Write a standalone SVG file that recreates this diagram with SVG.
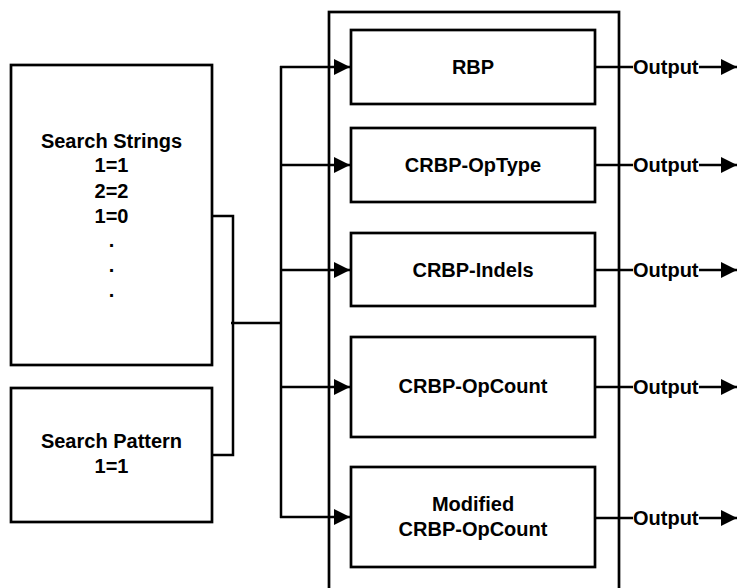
<svg xmlns="http://www.w3.org/2000/svg" width="738" height="588" viewBox="0 0 738 588">
<style>
.box{fill:none;stroke:#000;stroke-width:2.7}
.ln{fill:none;stroke:#000;stroke-width:2.5}
text{font-family:"Liberation Sans",Arial,sans-serif;font-weight:bold;font-size:20px;fill:#000}
.c{text-anchor:middle}
</style>
<defs>
<marker id="ah" markerUnits="userSpaceOnUse" markerWidth="16" markerHeight="16" refX="16" refY="8" orient="auto">
<path d="M0,0 L16,8 L0,16 z" fill="#000"/>
</marker>
</defs>
<rect width="738" height="588" fill="#fff"/>
<g id="strings">
<rect class="box" x="11" y="65" width="201" height="300"/>
<text class="c" x="111.5" y="148">Search Strings</text>
<text class="c" x="111.5" y="172">1=1</text>
<text class="c" x="111.5" y="198">2=2</text>
<text class="c" x="111.5" y="223">1=0</text>
<text class="c" x="111.5" y="247">.</text>
<text class="c" x="111.5" y="272">.</text>
<text class="c" x="111.5" y="297">.</text>
</g>
<g id="pattern">
<rect class="box" x="11" y="388" width="201" height="134"/>
<text class="c" x="111.5" y="448">Search Pattern</text>
<text class="c" x="111.5" y="473">1=1</text>
</g>
<g id="container">
<rect class="box" x="329" y="12" width="290" height="580"/>
</g>
<g id="rbp">
<rect class="box" x="351" y="30" width="244" height="74"/>
<text class="c" x="473" y="74">RBP</text>
</g>
<g id="optype">
<rect class="box" x="351" y="128" width="244" height="74"/>
<text class="c" x="473" y="172">CRBP-OpType</text>
</g>
<g id="indels">
<rect class="box" x="351" y="233" width="244" height="73"/>
<text class="c" x="473" y="277">CRBP-Indels</text>
</g>
<g id="opcount">
<rect class="box" x="351" y="337" width="244" height="100"/>
<text class="c" x="473" y="393">CRBP-OpCount</text>
</g>
<g id="modified">
<rect class="box" x="351" y="467" width="244" height="100"/>
<text class="c" x="473" y="511">Modified</text>
<text class="c" x="473" y="536">CRBP-OpCount</text>
</g>
<g id="connectors">
<polyline class="ln" points="212,216 233,216 233,455 212,455"/>
<line class="ln" x1="231" y1="323" x2="281" y2="323"/>
<line class="ln" x1="281" y1="66" x2="281" y2="518"/>
<line class="ln" x1="280" y1="67" x2="350" y2="67" marker-end="url(#ah)"/>
<line class="ln" x1="280" y1="165" x2="350" y2="165" marker-end="url(#ah)"/>
<line class="ln" x1="280" y1="270" x2="350" y2="270" marker-end="url(#ah)"/>
<line class="ln" x1="280" y1="387" x2="350" y2="387" marker-end="url(#ah)"/>
<line class="ln" x1="280" y1="517" x2="350" y2="517" marker-end="url(#ah)"/>
<line class="ln" x1="595" y1="67" x2="633" y2="67"/>
<line class="ln" x1="595" y1="165" x2="633" y2="165"/>
<line class="ln" x1="595" y1="270" x2="633" y2="270"/>
<line class="ln" x1="595" y1="387" x2="633" y2="387"/>
<line class="ln" x1="595" y1="518" x2="633" y2="518"/>
<line class="ln" x1="699" y1="67" x2="737" y2="67" marker-end="url(#ah)"/>
<line class="ln" x1="699" y1="165" x2="737" y2="165" marker-end="url(#ah)"/>
<line class="ln" x1="699" y1="270" x2="737" y2="270" marker-end="url(#ah)"/>
<line class="ln" x1="699" y1="387" x2="737" y2="387" marker-end="url(#ah)"/>
<line class="ln" x1="699" y1="518" x2="737" y2="518" marker-end="url(#ah)"/>
</g>
<g id="labels">
<text x="633" y="74">Output</text>
<text x="633" y="172">Output</text>
<text x="633" y="277">Output</text>
<text x="633" y="394">Output</text>
<text x="633" y="525">Output</text>
</g>
</svg>
